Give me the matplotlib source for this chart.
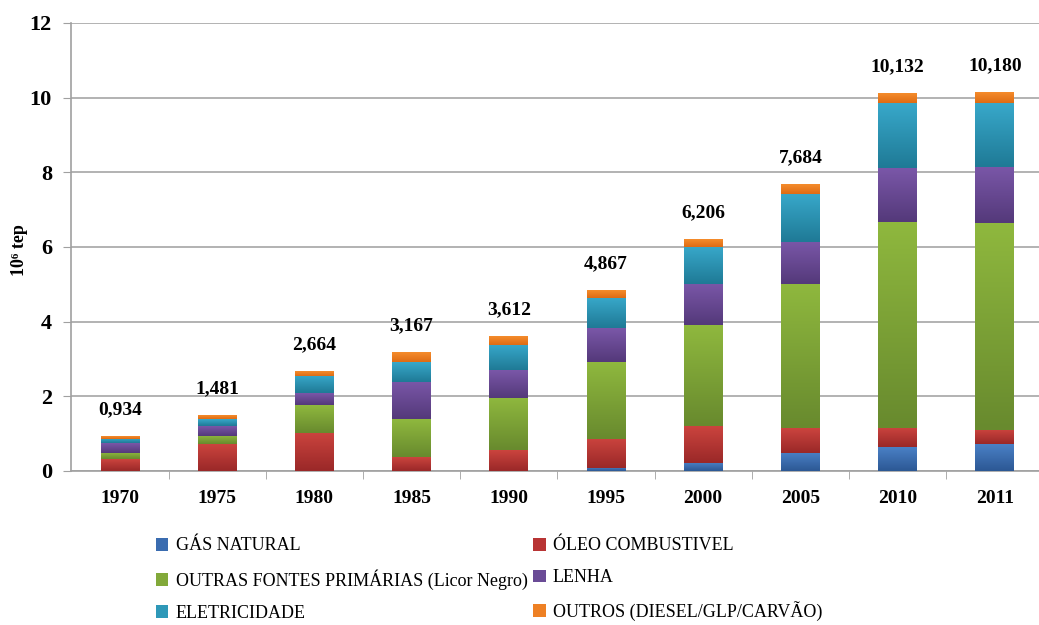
import numpy as np
import matplotlib
matplotlib.use("Agg")
import matplotlib.pyplot as plt
from matplotlib.colors import to_rgb

years = ['1970', '1975', '1980', '1985', '1990', '1995', '2000', '2005', '2010', '2011']
totals = ['0,934', '1,481', '2,664', '3,167', '3,612', '4,867', '6,206', '7,684', '10,132', '10,180']

gas_natural = [0.00, 0.00, 0.00, 0.00, 0.00, 0.09, 0.22, 0.49, 0.63, 0.72]
oleo = [0.32, 0.72, 1.02, 0.37, 0.56, 0.78, 0.99, 0.65, 0.51, 0.38]
outras_fontes = [0.17, 0.22, 0.74, 1.01, 1.40, 2.05, 2.69, 3.86, 5.54, 5.54]
lenha = [0.25, 0.26, 0.32, 1.01, 0.74, 0.91, 1.10, 1.13, 1.44, 1.51]
eletricidade = [0.11, 0.18, 0.46, 0.53, 0.67, 0.81, 1.00, 1.29, 1.73, 1.70]
outros = [0.08, 0.10, 0.13, 0.25, 0.24, 0.21, 0.21, 0.26, 0.26, 0.29]

series = [
    ('GÁS NATURAL', gas_natural, '#3a6cb0', '#4a80c6', '#2c5894'),
    ('ÓLEO COMBUSTIVEL', oleo, '#b83434', '#cb443e', '#9a2828'),
    ('OUTRAS FONTES PRIMÁRIAS (Licor Negro)', outras_fontes, '#82a93a', '#8fb83e', '#688a2e'),
    ('LENHA', lenha, '#6a4b96', '#7a57a8', '#54397a'),
    ('ELETRICIDADE', eletricidade, '#2e98b8', '#38a8ca', '#1f7a96'),
    ('OUTROS (DIESEL/GLP/CARVÃO)', outros, '#ee8024', '#f58c2c', '#de6c14'),
]

serif = ['Liberation Serif', 'DejaVu Serif']
plt.rcParams['font.family'] = serif

fig = plt.figure(figsize=(10.39, 6.25), dpi=100)
ax = fig.add_axes([0.0687, 0.2464, 0.9355, 0.7168])

x = np.arange(len(years))
width = 0.40
bottom = np.zeros(len(years))
handles = {}
for name, vals, base, light, dark in series:
    vals = np.array(vals)
    bars = ax.bar(x, vals, width, bottom=bottom, color=base, label=name, zorder=2)
    handles[name] = bars
    # vertical gradient, darker at the bottom of each segment
    grad = np.linspace(0, 1, 64)[:, None, None]
    img = (1 - grad) * np.array(to_rgb(dark)) + grad * np.array(to_rgb(light))
    for rect in bars:
        h = rect.get_height()
        if h <= 0:
            continue
        x0, y0, w = rect.get_x(), rect.get_y(), rect.get_width()
        ax.imshow(img, extent=[x0, x0 + w, y0, y0 + h], origin='lower',
                  aspect='auto', zorder=3, interpolation='bilinear')
    bottom = bottom + vals

for xi, top, lab in zip(x, bottom, totals):
    ax.annotate(lab, (xi, top), xytext=(0, 13), textcoords='offset points',
                ha='center', va='bottom', fontsize=14, fontweight='bold')

ax.set_xlim(-0.5, len(years) - 0.5)
ax.set_ylim(0, 12)
ax.set_yticks(range(0, 13, 2))
ax.set_xticks(x)
ax.set_xticklabels(years, fontsize=14, fontweight='bold')
ax.set_xticks(np.arange(0.5, len(years) - 1, 1), minor=True)
for t in ax.get_yticklabels():
    t.set_fontsize(16)
    t.set_fontweight('bold')
ax.tick_params(axis='x', which='major', length=0, pad=14)
ax.tick_params(axis='x', which='minor', length=6, color='#a0a0a0', direction='out')
ax.tick_params(axis='y', length=6, color='#a0a0a0', pad=8)

ax.grid(axis='y', color='#a6a6a6', linewidth=1.2, zorder=0)
ax.set_axisbelow(True)
for s in ['top', 'right']:
    ax.spines[s].set_visible(False)
for s in ['left', 'bottom']:
    ax.spines[s].set_color('#a0a0a0')
    ax.spines[s].set_linewidth(1.2)

fig.text(19 / 1039, 1 - 250 / 625, '10⁶ tep', rotation=90, ha='center', va='center',
         fontsize=13, fontweight='bold')

order = ['GÁS NATURAL', 'OUTRAS FONTES PRIMÁRIAS (Licor Negro)', 'ELETRICIDADE',
         'ÓLEO COMBUSTIVEL', 'LENHA', 'OUTROS (DIESEL/GLP/CARVÃO)']
fig.legend([handles[n] for n in order], order, loc='upper left',
           bbox_to_anchor=(0.150, 0.140), ncol=2, frameon=False,
           fontsize=13, handlelength=0.7, handleheight=0.7, handletextpad=0.4,
           labelspacing=0.82, columnspacing=0.3, borderaxespad=0, borderpad=0)

fig.savefig('out.png', dpi=100)
